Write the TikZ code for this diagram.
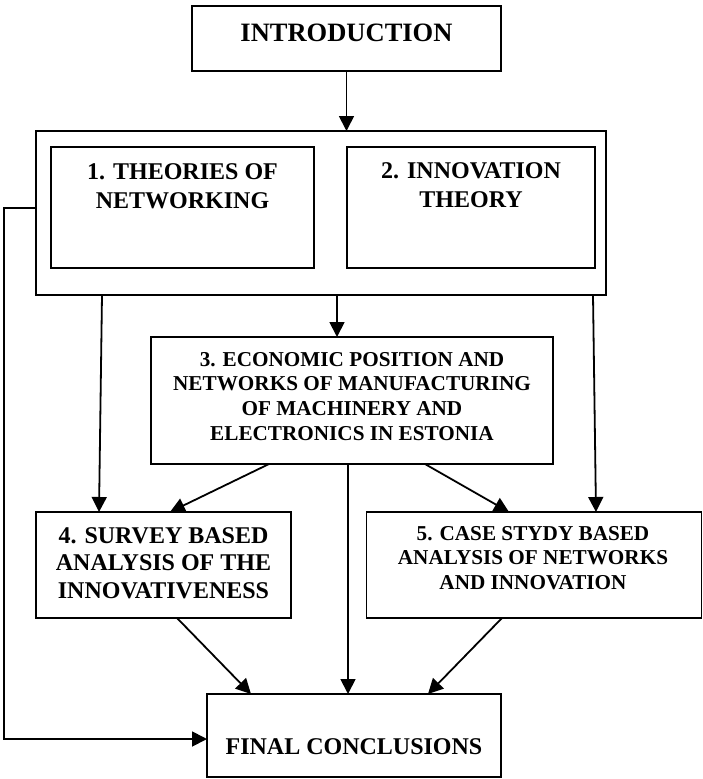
\documentclass[tikz,border=0pt]{standalone}
\usepackage{fontspec}
\setmainfont{Liberation Serif}
\usetikzlibrary{arrows.meta}
\begin{document}
\begin{tikzpicture}[x=1pt,y=-1pt,
  box/.style={draw, line width=1.8pt, rectangle, inner sep=0pt, outer sep=0pt},
  txt/.style={anchor=north, inner sep=0pt, align=center},
  big/.style={font=\fontsize{26.5}{30}\selectfont\bfseries},
  mid/.style={font=\fontsize{24}{29}\selectfont\bfseries},
  mida/.style={font=\fontsize{24}{27.5}\selectfont\bfseries},
  sml/.style={font=\fontsize{21.2}{24.6}\selectfont\bfseries},
  link/.style={line width=1.8pt, -{Triangle[length=15pt,width=15pt]}}
]
\useasboundingbox (0,0) rectangle (703,779);

% boxes
\node[box, minimum width=309pt, minimum height=65pt] (intro) at (346.5,38.5) {};
\node[box, minimum width=570pt, minimum height=164pt] (outer) at (321,213) {};
\node[box, minimum width=263pt, minimum height=121pt] (b1) at (182.5,207.5) {};
\node[box, minimum width=248pt, minimum height=121pt] (b2) at (471,207.5) {};
\node[box, minimum width=402pt, minimum height=127pt] (b3) at (352,400.5) {};
\node[box, minimum width=255pt, minimum height=106pt] (b4) at (163.5,565) {};
\node[box, minimum width=335pt, minimum height=106pt] (b5) at (534,565) {};
\node[box, minimum width=294pt, minimum height=83pt] (final) at (354,735.5) {};

% texts
\node[txt, big] (tintro) at (346.5,23.5) {INTRODUCTION};
\node[txt, mid] (t1) at (182.5,163) {1. THEORIES OF\\NETWORKING};
\node[txt, mid] (t2) at (471,162) {2. INNOVATION\\THEORY};
\node[txt, sml] (t3) at (352,352) {3. ECONOMIC POSITION AND\\NETWORKS OF MANUFACTURING\\OF MACHINERY AND\\ELECTRONICS IN ESTONIA};
\node[txt, mida] (t4) at (163.5,527) {4. SURVEY BASED\\ANALYSIS OF THE\\INNOVATIVENESS};
\node[txt, sml] (t5) at (533,526) {5. CASE STYDY BASED\\ANALYSIS OF NETWORKS\\AND INNOVATION};
\node[txt, mid] (tfinal) at (354,738) {FINAL CONCLUSIONS};

% connectors
\draw[link] (intro.south) -- (intro.south |- outer.north);
\draw[link] (outer.south -| 337,0) -- (b3.north -| 337,0);
\draw[link] (outer.south -| 102,0) -- (b4.north -| 99,0);
\draw[link] (outer.south -| 593,0) -- (b5.north -| 596,0);
\draw[link] (b3.south -| 269,0) -- (b4.north -| 170,0);
\draw[link] (b3.south -| 425,0) -- (b5.north -| 509,0);
\draw[link] (b3.south -| 348,0) -- (final.north -| 348,0);
\draw[link] (b4.south -| 177,0) -- (final.north -| 251,0);
\draw[link] (b5.south -| 502,0) -- (final.north -| 428,0);
\coordinate (fbtop) at (4,208);
\coordinate (fbbot) at (4,739);
\draw[link] (outer.west |- fbtop) -- (fbtop) -- (fbbot) -- (final.west |- fbbot);
\end{tikzpicture}
\end{document}
